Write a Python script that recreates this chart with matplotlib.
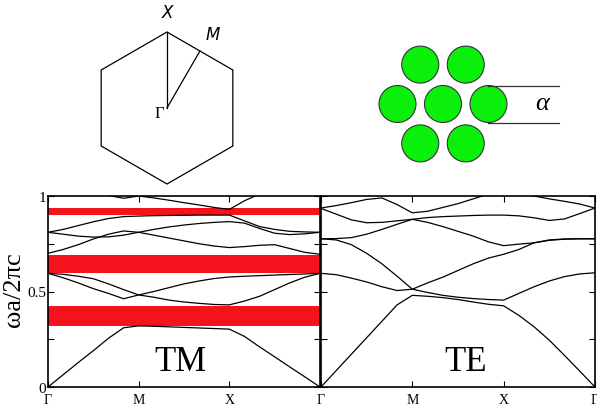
import numpy as np
import matplotlib
matplotlib.use("Agg")
import matplotlib.pyplot as plt
from matplotlib.patches import RegularPolygon, Circle

# k path: Gamma -> M -> X -> Gamma, 6 samples per segment
k = np.linspace(0, 3, 19)
k_ticks = [0, 1, 2, 3]
k_labels = ["Γ", "M", "X", "Γ"]

# TM bands (omega a / 2 pi c)
tm_bands = [
    [0, 0.064, 0.128, 0.19, 0.255, 0.31, 0.32, 0.318, 0.315, 0.312, 0.309, 0.306, 0.303,
     0.265, 0.21, 0.158, 0.105, 0.053, 0],
    [0.595, 0.572, 0.545, 0.515, 0.49, 0.462, 0.482, 0.47, 0.455, 0.445, 0.438, 0.432, 0.43,
     0.45, 0.475, 0.51, 0.545, 0.575, 0.595],
    [0.595, 0.59, 0.58, 0.567, 0.54, 0.51, 0.482, 0.50, 0.52, 0.54, 0.555, 0.568, 0.576,
     0.58, 0.583, 0.586, 0.589, 0.592, 0.595],
    [0.70, 0.72, 0.745, 0.775, 0.80, 0.817, 0.81, 0.795, 0.78, 0.765, 0.75, 0.738, 0.73,
     0.735, 0.742, 0.745, 0.725, 0.705, 0.695],
    [0.81, 0.80, 0.79, 0.785, 0.786, 0.795, 0.81, 0.825, 0.838, 0.848, 0.856, 0.862, 0.866,
     0.858, 0.83, 0.805, 0.798, 0.802, 0.81],
    [0.81, 0.825, 0.845, 0.865, 0.882, 0.892, 0.895, 0.897, 0.898, 0.899, 0.90, 0.90, 0.90,
     0.87, 0.84, 0.825, 0.815, 0.812, 0.81],
    [1.08, 1.07, 1.05, 1.03, 1.003, 0.988, 1.0, 0.99, 0.978, 0.965, 0.953, 0.94, 0.93,
     0.975, 1.01, 1.04, 1.06, 1.07, 1.08],
]

# TE bands
te_bands = [
    [0, 0.086, 0.172, 0.258, 0.344, 0.43, 0.48, 0.475, 0.468, 0.458, 0.445, 0.433, 0.425,
     0.375, 0.315, 0.245, 0.165, 0.083, 0],
    [0.595, 0.588, 0.57, 0.55, 0.525, 0.505, 0.512, 0.545, 0.575, 0.61, 0.645, 0.675, 0.695,
     0.72, 0.755, 0.77, 0.775, 0.776, 0.776],
    [0.776, 0.77, 0.745, 0.70, 0.645, 0.58, 0.512, 0.495, 0.48, 0.47, 0.463, 0.458, 0.455,
     0.49, 0.525, 0.555, 0.578, 0.592, 0.598],
    [0.776, 0.777, 0.782, 0.80, 0.825, 0.852, 0.878, 0.862, 0.84, 0.815, 0.79, 0.76, 0.74,
     0.748, 0.755, 0.768, 0.774, 0.776, 0.776],
    [0.935, 0.905, 0.875, 0.86, 0.862, 0.87, 0.878, 0.887, 0.892, 0.895, 0.898, 0.9, 0.9,
     0.896, 0.886, 0.872, 0.88, 0.908, 0.937],
    [0.937, 0.95, 0.965, 0.982, 0.99, 0.955, 0.912, 0.92, 0.94, 0.96, 0.985, 1.01, 1.04,
     1.02, 1.0, 0.985, 0.972, 0.958, 0.937],
]

# TM photonic band gaps
gap_lo = [0.321, 0.595, 0.90]
gap_hi = [0.425, 0.691, 0.935]

serif = "Liberation Serif"

fig = plt.figure(figsize=(5.97, 4.10), dpi=100)

# overlay in pixel units for the sketches
ov = fig.add_axes([0, 0, 1, 1])
ov.set_xlim(0, 597)
ov.set_ylim(410, 0)
ov.axis("off")

# Brillouin zone
bz_c = np.array([167.0, 109.0])
bz_r = 76
ov.add_patch(RegularPolygon(tuple(bz_c), numVertices=6, radius=bz_r, fill=False,
                            edgecolor="black", lw=0.9))
top = bz_c + [0, -bz_r]
ur = bz_c + [bz_r * np.cos(np.pi / 6), -bz_r * np.sin(np.pi / 6)]
mid = (top + ur) / 2
ov.plot([bz_c[0], top[0]], [bz_c[1], top[1]], color="black", lw=0.9)
ov.plot([bz_c[0], mid[0]], [bz_c[1], mid[1]], color="black", lw=0.9)
ov.text(167, 13, "X", fontsize=12, style="italic", ha="center", va="center")
ov.text(213, 35, "M", fontsize=12, style="italic", ha="center", va="center")
ov.text(159, 114, "Γ", fontsize=12, family=serif, ha="center", va="center")

# rod lattice
center = (443, 105)
spacing = 45.5
offsets = [(-0.5, -1), (0.5, -1), (-1, 0), (0, 0), (1, 0), (-0.5, 1), (0.5, 1)]
for dx, dy in offsets:
    cx = center[0] + dx * spacing
    cy = center[1] + dy * spacing * np.sqrt(3) / 2
    ov.add_patch(Circle((cx, cy), 18.5, facecolor="#0af00a", edgecolor="#333333", lw=0.8))
ov.plot([488, 559], [86.5, 86.5], color="#333333", lw=0.9)
ov.plot([488, 559], [124, 124], color="#333333", lw=0.9)
ov.text(542, 104, "α", fontsize=19, family=serif, style="italic", ha="center", va="center")

# band panels
ax1 = fig.add_axes([48 / 597, 22 / 410, 272 / 597, 191 / 410])
ax2 = fig.add_axes([321 / 597, 22 / 410, 274 / 597, 191 / 410])

for lo, hi in zip(gap_lo, gap_hi):
    ax1.axhspan(lo, hi, color="#f4121c", lw=0, zorder=1)
for b in tm_bands:
    ax1.plot(k, b, color="black", lw=0.9, zorder=2)
for b in te_bands:
    ax2.plot(k, b, color="black", lw=0.9, zorder=2)

for ax in (ax1, ax2):
    ax.set_xlim(0, 3)
    ax.set_ylim(0, 1)
    ax.set_xticks(k_ticks)
    ax.set_xticklabels(k_labels, fontsize=10, family=serif)
    ax.set_yticks([0, 0.5, 1])
    ax.set_yticks([0.25, 0.75], minor=True)
    ax.tick_params(which="both", direction="in", top=True, right=True, length=4, width=0.8)
    ax.tick_params(axis="y", pad=1.5)
    ax.tick_params(axis="x", pad=4)
    for s in ax.spines.values():
        s.set_linewidth(1.2)

ax1.set_yticklabels(["0", "0.5", "1"], fontsize=11, family=serif)
ax2.set_yticklabels([])
ax1.set_xticklabels(["Γ", "M", "X", ""], fontsize=10, family=serif)

ax1.text(1.46, 0.136, "TM", fontsize=25, family=serif, ha="center", va="center")
ax2.text(1.58, 0.136, "TE", fontsize=25, family=serif, ha="center", va="center")

fig.text(14 / 597, 1 - 290 / 410, "ωa/2πc", fontsize=19, family=serif, rotation=90,
         ha="center", va="center")

fig.savefig("out.png", dpi=100)
